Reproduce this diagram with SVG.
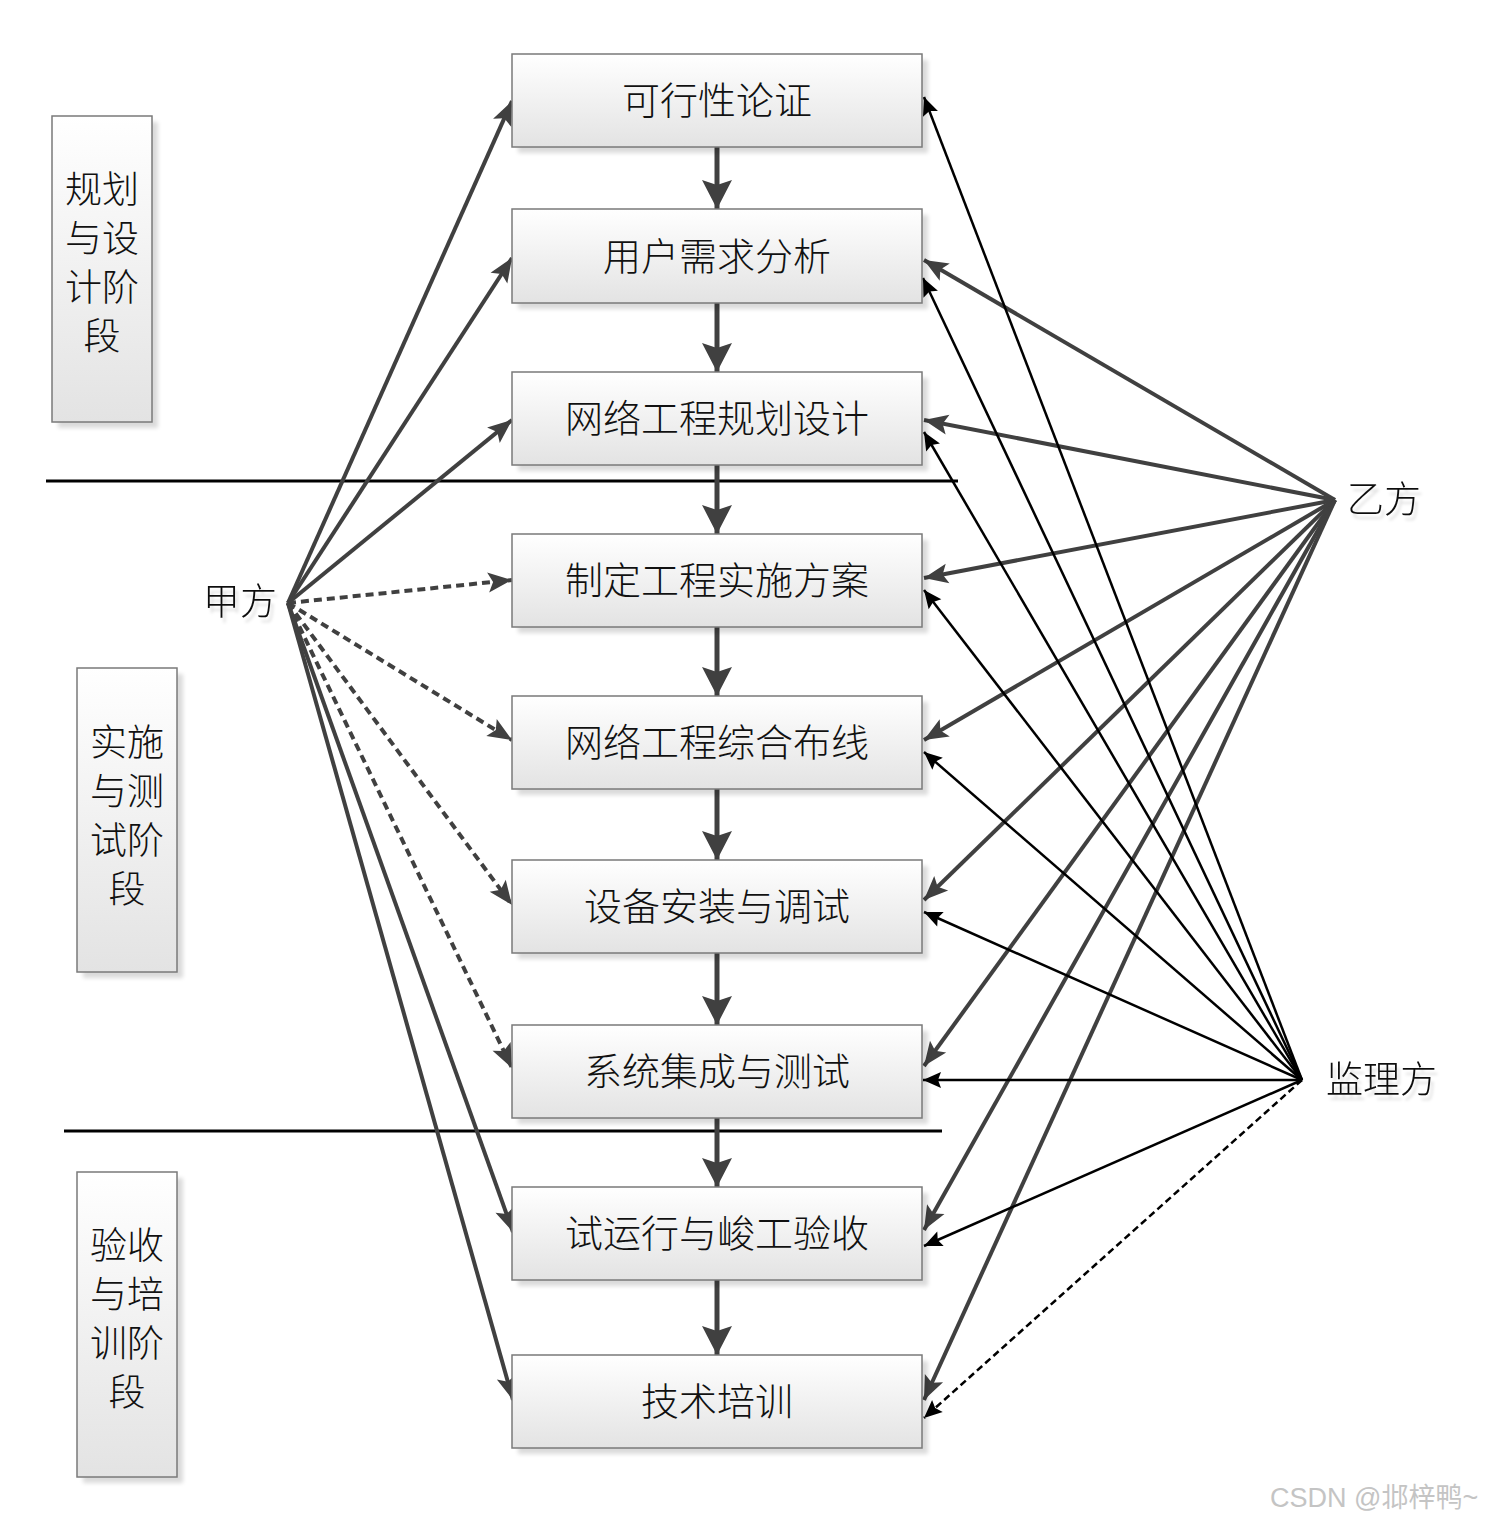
<svg xmlns="http://www.w3.org/2000/svg" width="1494" height="1522" viewBox="0 0 1494 1522">
<defs>
  <linearGradient id="boxFill" x1="0" y1="0" x2="0" y2="1">
    <stop offset="0" stop-color="#ffffff"/>
    <stop offset="1" stop-color="#e3e3e3"/>
  </linearGradient>
  <filter id="shadowBlur" x="-10%" y="-10%" width="120%" height="120%">
    <feGaussianBlur stdDeviation="2"/>
  </filter>
  <filter id="textGhost" x="-20%" y="-20%" width="150%" height="150%">
    <feDropShadow dx="3" dy="5" stdDeviation="1.5" flood-color="#000" flood-opacity="0.13"/>
  </filter>
  <marker id="ahDark" viewBox="-26 -12 28 24" refX="0" refY="0" markerWidth="28" markerHeight="24" markerUnits="userSpaceOnUse" orient="auto" overflow="visible">
    <path d="M0,0 L-24,-10 L-19,0 L-24,10 Z" fill="#404040"/>
  </marker>
  <marker id="ahBlack" viewBox="-20 -9 22 18" refX="0" refY="0" markerWidth="22" markerHeight="18" markerUnits="userSpaceOnUse" orient="auto" overflow="visible">
    <path d="M0,0 L-18,-8 L-15,0 L-18,8 Z" fill="#000"/>
  </marker>
  <marker id="ahFlow" viewBox="-30 -16 32 32" refX="0" refY="0" markerWidth="32" markerHeight="32" markerUnits="userSpaceOnUse" orient="auto" overflow="visible">
    <path d="M0,0 L-29,-15 L-24,0 L-29,15 Z" fill="#404040"/>
  </marker>
</defs>
<style>
  .box{fill:url(#boxFill);stroke:#7a7a7a;stroke-width:1.5}
  .shadow{fill:#000;opacity:0.14;filter:url(#shadowBlur)}
  .lbl{font-family:"Noto Sans CJK SC","Noto Sans CJK JP",sans-serif;font-size:38px;font-weight:300;fill:#111;text-anchor:middle}
  .phase{font-family:"Noto Sans CJK SC","Noto Sans CJK JP",sans-serif;font-size:37px;font-weight:300;fill:#111;text-anchor:middle}
  .party{font-family:"Noto Sans CJK SC","Noto Sans CJK JP",sans-serif;font-size:37px;font-weight:300;fill:#111;filter:url(#textGhost)}
  .flow{stroke:#404040;stroke-width:5;fill:none}
  .cA{stroke:#404040;stroke-width:4;fill:none}
  .cAd{stroke:#404040;stroke-width:4;fill:none;stroke-dasharray:8 5}
  .cB{stroke:#404040;stroke-width:4;fill:none}
  .cC{stroke:#000;stroke-width:2.5;fill:none}
  .cCd{stroke:#000;stroke-width:2.5;fill:none;stroke-dasharray:7 4}
  .sep{stroke:#000;stroke-width:3}
  .wm{font-family:"Liberation Sans","Noto Sans CJK SC",sans-serif;font-size:27px;fill:#c4c4c4}
</style>
<rect width="1494" height="1522" fill="#ffffff"/>

<g id="separators">
  <line class="sep" x1="46" y1="481" x2="958" y2="481"/>
  <line class="sep" x1="64" y1="1131" x2="942" y2="1131"/>
</g>

<g id="connectors">
  <!-- flow arrows -->
  <path class="flow" d="M717,147 L717,209" marker-end="url(#ahFlow)"/>
  <path class="flow" d="M717,303 L717,372" marker-end="url(#ahFlow)"/>
  <path class="flow" d="M717,465 L717,534" marker-end="url(#ahFlow)"/>
  <path class="flow" d="M717,627 L717,696" marker-end="url(#ahFlow)"/>
  <path class="flow" d="M717,789 L717,860" marker-end="url(#ahFlow)"/>
  <path class="flow" d="M717,953 L717,1025" marker-end="url(#ahFlow)"/>
  <path class="flow" d="M717,1118 L717,1187" marker-end="url(#ahFlow)"/>
  <path class="flow" d="M717,1280 L717,1355" marker-end="url(#ahFlow)"/>
  <!-- 甲方 -->
  <path class="cA" d="M288,603 L512,101" marker-end="url(#ahDark)"/>
  <path class="cA" d="M288,603 L512,258" marker-end="url(#ahDark)"/>
  <path class="cA" d="M288,603 L512,420" marker-end="url(#ahDark)"/>
  <path class="cAd" d="M288,603 L512,580" marker-end="url(#ahDark)"/>
  <path class="cAd" d="M288,603 L512,740" marker-end="url(#ahDark)"/>
  <path class="cAd" d="M288,603 L512,905" marker-end="url(#ahDark)"/>
  <path class="cAd" d="M288,603 L512,1068" marker-end="url(#ahDark)"/>
  <path class="cA" d="M288,603 L513,1232" marker-end="url(#ahDark)"/>
  <path class="cA" d="M288,603 L513,1400" marker-end="url(#ahDark)"/>
  <!-- 乙方 -->
  <path class="cB" d="M1335,500 L924,260" marker-end="url(#ahDark)"/>
  <path class="cB" d="M1335,500 L924,420" marker-end="url(#ahDark)"/>
  <path class="cB" d="M1335,500 L924,578" marker-end="url(#ahDark)"/>
  <path class="cB" d="M1335,500 L924,740" marker-end="url(#ahDark)"/>
  <path class="cB" d="M1335,500 L924,900" marker-end="url(#ahDark)"/>
  <path class="cB" d="M1335,500 L924,1066" marker-end="url(#ahDark)"/>
  <path class="cB" d="M1335,500 L924,1230" marker-end="url(#ahDark)"/>
  <path class="cB" d="M1335,500 L924,1400" marker-end="url(#ahDark)"/>
  <!-- 监理方 -->
  <path class="cC" d="M1302,1080 L924,97" marker-end="url(#ahBlack)"/>
  <path class="cC" d="M1302,1080 L923,278" marker-end="url(#ahBlack)"/>
  <path class="cC" d="M1302,1080 L924,432" marker-end="url(#ahBlack)"/>
  <path class="cC" d="M1302,1080 L924,590" marker-end="url(#ahBlack)"/>
  <path class="cC" d="M1302,1080 L924,752" marker-end="url(#ahBlack)"/>
  <path class="cC" d="M1302,1080 L924,912" marker-end="url(#ahBlack)"/>
  <path class="cC" d="M1302,1080 L923,1080" marker-end="url(#ahBlack)"/>
  <path class="cC" d="M1302,1080 L924,1246" marker-end="url(#ahBlack)"/>
  <path class="cCd" d="M1302,1080 L924,1418" marker-end="url(#ahBlack)"/>
</g>

<g id="phase-plan">
  <rect class="shadow" x="58" y="122" width="100" height="306"/>
  <rect class="box" x="52" y="116" width="100" height="306"/>
  <text class="phase" x="102" y="203">规划</text>
  <text class="phase" x="102" y="252">与设</text>
  <text class="phase" x="102" y="301">计阶</text>
  <text class="phase" x="102" y="350">段</text>
</g>
<g id="phase-impl">
  <rect class="shadow" x="83" y="674" width="100" height="304"/>
  <rect class="box" x="77" y="668" width="100" height="304"/>
  <text class="phase" x="127" y="756">实施</text>
  <text class="phase" x="127" y="805">与测</text>
  <text class="phase" x="127" y="854">试阶</text>
  <text class="phase" x="127" y="903">段</text>
</g>
<g id="phase-accept">
  <rect class="shadow" x="83" y="1178" width="100" height="305"/>
  <rect class="box" x="77" y="1172" width="100" height="305"/>
  <text class="phase" x="127" y="1259">验收</text>
  <text class="phase" x="127" y="1308">与培</text>
  <text class="phase" x="127" y="1357">训阶</text>
  <text class="phase" x="127" y="1406">段</text>
</g>

<g id="n1">
  <rect class="shadow" x="518" y="60" width="410" height="93"/>
  <rect class="box" x="512" y="54" width="410" height="93"/>
  <text class="lbl" x="717" y="114">可行性论证</text>
</g>
<g id="n2">
  <rect class="shadow" x="518" y="215" width="410" height="94"/>
  <rect class="box" x="512" y="209" width="410" height="94"/>
  <text class="lbl" x="717" y="270">用户需求分析</text>
</g>
<g id="n3">
  <rect class="shadow" x="518" y="378" width="410" height="93"/>
  <rect class="box" x="512" y="372" width="410" height="93"/>
  <text class="lbl" x="717" y="432">网络工程规划设计</text>
</g>
<g id="n4">
  <rect class="shadow" x="518" y="540" width="410" height="93"/>
  <rect class="box" x="512" y="534" width="410" height="93"/>
  <text class="lbl" x="717" y="594">制定工程实施方案</text>
</g>
<g id="n5">
  <rect class="shadow" x="518" y="702" width="410" height="93"/>
  <rect class="box" x="512" y="696" width="410" height="93"/>
  <text class="lbl" x="717" y="756">网络工程综合布线</text>
</g>
<g id="n6">
  <rect class="shadow" x="518" y="866" width="410" height="93"/>
  <rect class="box" x="512" y="860" width="410" height="93"/>
  <text class="lbl" x="717" y="920">设备安装与调试</text>
</g>
<g id="n7">
  <rect class="shadow" x="518" y="1031" width="410" height="93"/>
  <rect class="box" x="512" y="1025" width="410" height="93"/>
  <text class="lbl" x="717" y="1085">系统集成与测试</text>
</g>
<g id="n8">
  <rect class="shadow" x="518" y="1193" width="410" height="93"/>
  <rect class="box" x="512" y="1187" width="410" height="93"/>
  <text class="lbl" x="717" y="1247">试运行与峻工验收</text>
</g>
<g id="n9">
  <rect class="shadow" x="518" y="1361" width="410" height="93"/>
  <rect class="box" x="512" y="1355" width="410" height="93"/>
  <text class="lbl" x="717" y="1415">技术培训</text>
</g>

<g id="party-a">
  <text class="party" x="203" y="615">甲方</text>
</g>
<g id="party-b">
  <text class="party" x="1347" y="513">乙方</text>
</g>
<g id="party-s">
  <text class="party" x="1326" y="1093">监理方</text>
</g>

<text class="wm" x="1270" y="1507">CSDN @邶梓鸭~</text>
</svg>
